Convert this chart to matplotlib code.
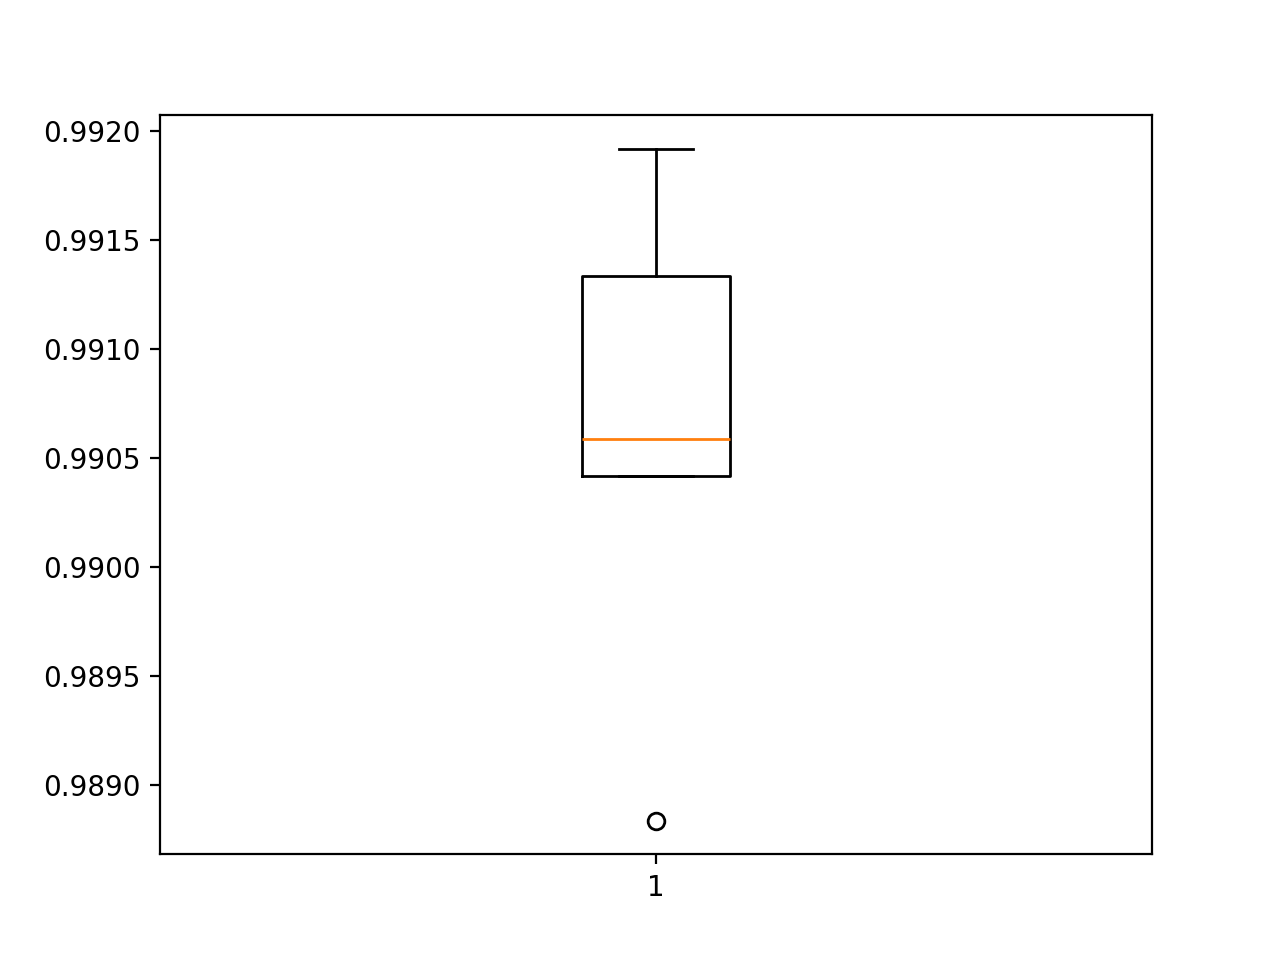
import matplotlib
matplotlib.use("Agg")
import matplotlib.pyplot as plt

scores = [0.988835, 0.990417, 0.990587, 0.991335, 0.991917]

fig, ax = plt.subplots(figsize=(6.4, 4.8), dpi=200)
ax.boxplot(scores)
fig.savefig("out.png", dpi=200)
